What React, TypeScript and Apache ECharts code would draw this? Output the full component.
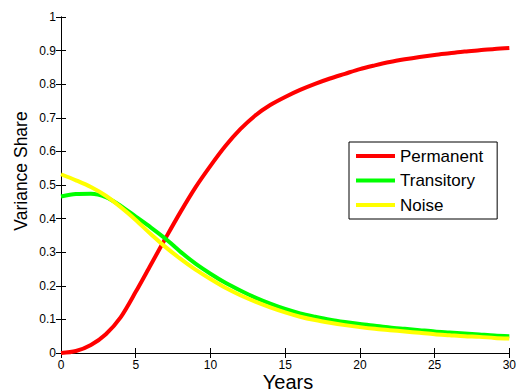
import React, { useEffect, useRef } from "react";
import * as echarts from "echarts";

// Horizon in years
const years: number[] = [
  0, 1, 2, 3, 4, 5, 6, 7, 8, 9, 10, 11, 12, 13, 14, 15, 16, 17, 18, 19, 20,
  21, 22, 23, 24, 25, 26, 27, 28, 29, 30,
];

// Variance shares
const permanent: number[] = [
  0, 0.006, 0.024, 0.056, 0.107, 0.182, 0.262, 0.342, 0.42, 0.493, 0.557,
  0.616, 0.666, 0.707, 0.738, 0.762, 0.783, 0.801, 0.817, 0.831, 0.845,
  0.856, 0.866, 0.874, 0.881, 0.887, 0.892, 0.897, 0.901, 0.905, 0.908,
];
const transitory: number[] = [
  0.466, 0.473, 0.474, 0.464, 0.438, 0.406, 0.374, 0.34, 0.301, 0.266, 0.236,
  0.209, 0.186, 0.165, 0.147, 0.131, 0.118, 0.108, 0.099, 0.092, 0.086,
  0.081, 0.076, 0.072, 0.068, 0.064, 0.061, 0.058, 0.055, 0.052, 0.05,
];
const noise: number[] = [
  0.532, 0.514, 0.494, 0.468, 0.434, 0.396, 0.354, 0.315, 0.28, 0.248, 0.22,
  0.194, 0.172, 0.153, 0.136, 0.121, 0.108, 0.098, 0.09, 0.083, 0.077,
  0.072, 0.068, 0.064, 0.06, 0.056, 0.053, 0.05, 0.048, 0.045, 0.043,
];

const seriesNames: string[] = ["Permanent", "Transitory", "Noise"];
const seriesColors: string[] = ["#ff0000", "#00ff00", "#ffff00"];

const xTicks: number[] = [0, 5, 10, 15, 20, 25, 30];
const yTickLabels: string[] = ["0", "0.1", "0.2", "0.3", "0.4", "0.5", "0.6", "0.7", "0.8", "0.9", "1"];

const FONT = "'Liberation Sans', Arial, Helvetica, sans-serif";

export default function App() {
  const ref = useRef<HTMLDivElement>(null);

  useEffect(() => {
    if (!ref.current) return;
    const chart = echarts.init(ref.current, undefined, { renderer: "svg" });
    const allSeries = [permanent, transitory, noise];

    const axisCommon = {
      axisLine: { show: true, lineStyle: { color: "#000", width: 1 } },
      axisTick: { show: true, inside: true, length: 5, lineStyle: { color: "#000", width: 1 } },
      splitLine: { show: false },
    };

    chart.setOption({
      animation: false,
      backgroundColor: "#fff",
      textStyle: { fontFamily: FONT },
      grid: { left: 61, top: 17, right: 7, bottom: 39, containLabel: false },
      xAxis: [
        {
          type: "value",
          min: 0,
          max: 30,
          interval: 5,
          position: "bottom",
          ...axisCommon,
          axisLabel: {
            show: true,
            margin: 6,
            color: "#000",
            fontSize: 12,
            fontFamily: FONT,
            formatter: (v: number) => (xTicks.includes(v) ? String(v) : ""),
          },
        },
        {
          type: "value",
          min: 0,
          max: 30,
          interval: 5,
          position: "top",
          ...axisCommon,
          axisLabel: { show: false },
        },
      ],
      yAxis: [
        {
          type: "value",
          min: 0,
          max: 1,
          interval: 0.1,
          position: "left",
          ...axisCommon,
          axisLabel: {
            show: true,
            margin: 5,
            color: "#000",
            fontSize: 12,
            fontFamily: FONT,
            formatter: (v: number) => yTickLabels[Math.round(v * 10)] ?? "",
          },
        },
        {
          type: "value",
          min: 0,
          max: 1,
          interval: 0.1,
          position: "right",
          ...axisCommon,
          axisLabel: { show: false },
        },
      ],
      legend: {
        show: true,
        orient: "vertical",
        left: 349,
        top: 142,
        backgroundColor: "#fff",
        borderColor: "#000",
        borderWidth: 1,
        borderRadius: 0,
        padding: [4, 14, 4, 7],
        itemGap: 4.5,
        itemWidth: 39,
        itemHeight: 4,
        icon: "rect",
        textStyle: { fontSize: 17, lineHeight: 20, color: "#000", fontFamily: FONT },
        data: seriesNames,
      },
      graphic: [
        {
          type: "text",
          x: 288,
          y: 392,
          style: {
            text: "Years",
            fill: "#000",
            font: `20px ${FONT}`,
            align: "center",
            verticalAlign: "bottom",
          },
        },
        {
          type: "text",
          x: 21,
          y: 171,
          rotation: Math.PI / 2,
          style: {
            text: "Variance Share",
            fill: "#000",
            font: `17.5px ${FONT}`,
            align: "center",
            verticalAlign: "middle",
          },
        },
      ],
      series: seriesNames.map((name, i) => ({
        name,
        type: "line",
        xAxisIndex: 0,
        yAxisIndex: 0,
        showSymbol: false,
        symbol: "none",
        smooth: 0.3,
        clip: true,
        color: seriesColors[i],
        lineStyle: { color: seriesColors[i], width: 4 },
        data: years.map((y, k) => [y, allSeries[i][k]]),
      })),
    });

    return () => {
      chart.dispose();
    };
  }, []);

  return (
    <div
      ref={ref}
      style={{ position: "absolute", left: 0, top: 0, width: 519, height: 392 }}
    />
  );
}
